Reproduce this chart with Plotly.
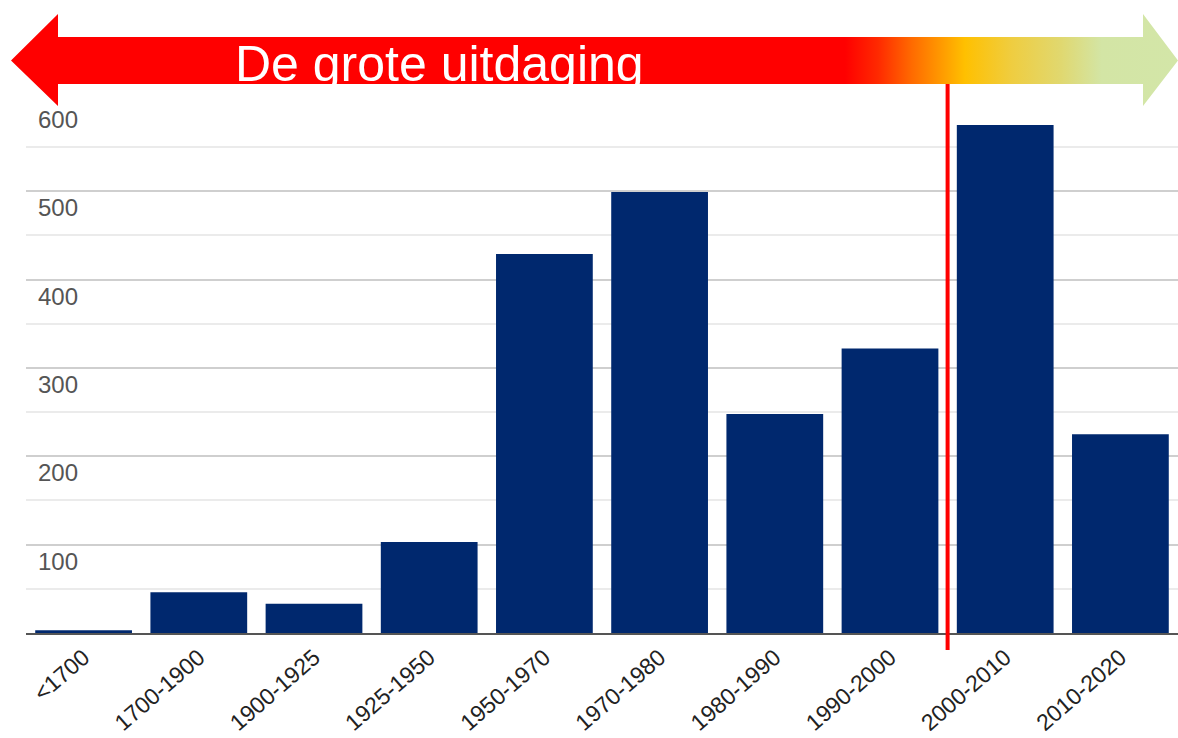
import plotly.graph_objects as go

# ---- data ----
categories = ["<1700", "1700-1900", "1900-1925", "1925-1950", "1950-1970",
              "1970-1980", "1980-1990", "1990-2000", "2000-2010", "2010-2020"]
values = [3, 46, 33, 103, 429, 499, 248, 322, 575, 225]
y_tickvals = [100, 200, 300, 400, 500, 600]
y_ticktext = ["100", "200", "300", "400", "500", "600"]
banner_text = "De grote uitdaging"
divider_position = 7.5  # between 1990-2000 and 2000-2010

# ---- layout constants (pixels) ----
W, H = 1178, 738
PLOT_LEFT, PLOT_RIGHT = 26, 1178
PLOT_TOP, PLOT_BOTTOM = 102, 633
BAR_COLOR = "#00286E"

# arrow geometry (overlay pixel space)
SHAFT_TOP, SHAFT_BOT = 37, 84
HEAD_TOP, HEAD_BOT = 14, 106
LEFT_TIP, LEFT_BACK = 11, 58
RIGHT_TIP, RIGHT_BACK = 1178, 1143
MID_Y = (SHAFT_TOP + SHAFT_BOT) / 2

arrow_x = [LEFT_TIP, LEFT_BACK, LEFT_BACK, RIGHT_BACK, RIGHT_BACK, RIGHT_TIP,
           RIGHT_BACK, RIGHT_BACK, LEFT_BACK, LEFT_BACK, LEFT_TIP]
arrow_y = [MID_Y, HEAD_TOP, SHAFT_TOP, SHAFT_TOP, HEAD_TOP, MID_Y,
           HEAD_BOT, SHAFT_BOT, SHAFT_BOT, HEAD_BOT, MID_Y]

gradient = [
    [0.0, "#ff0000"],
    [0.10, "#ff2a00"],
    [0.20, "#ff6a00"],
    [0.36, "#ffc000"],
    [0.50, "#efcd40"],
    [0.65, "#e0d870"],
    [0.77, "#d3e5a5"],
    [1.0, "#d3e6a8"],
]

fig = go.Figure()

fig.add_trace(go.Bar(
    x=categories, y=values, marker=dict(color=BAR_COLOR, line=dict(width=0)),
    xaxis="x", yaxis="y", hoverinfo="x+y", showlegend=False,
))

fig.add_trace(go.Scatter(
    x=arrow_x, y=arrow_y, mode="lines", fill="toself",
    line=dict(width=0, color="rgba(0,0,0,0)"),
    fillgradient=dict(type="horizontal", colorscale=gradient, start=845, stop=1178),
    xaxis="x2", yaxis="y2", hoverinfo="skip", showlegend=False,
))

fig.update_layout(
    width=W, height=H,
    margin=dict(l=0, r=0, t=0, b=0),
    paper_bgcolor="white", plot_bgcolor="rgba(0,0,0,0)",
    bargap=0.16,
    font=dict(family="Liberation Sans, Arial, sans-serif"),
    xaxis=dict(
        domain=[PLOT_LEFT / W, PLOT_RIGHT / W],
        type="category", range=[-0.5, 9.5],
        showgrid=False, showline=True, linecolor="#555555", linewidth=2,
        ticks="", tickangle=-41,
        tickfont=dict(size=23, color="#222222"),
        automargin=False, fixedrange=True, anchor="y",
    ),
    yaxis=dict(
        domain=[(H - PLOT_BOTTOM) / H, (H - PLOT_TOP) / H],
        range=[0, 601],
        tickmode="array", tickvals=y_tickvals, ticktext=y_ticktext,
        ticklabelposition="inside bottom", ticklabelstandoff=9,
        tickfont=dict(size=24, color="#555555"),
        showgrid=True, gridcolor="#cfcfcf", gridwidth=2,
        zeroline=False, showline=False, ticks="",
        minor=dict(tick0=0, dtick=50, showgrid=True, gridcolor="#ebebeb", gridwidth=2),
        automargin=False, fixedrange=True, anchor="x",
    ),
    xaxis2=dict(domain=[0, 1], range=[0, W], visible=False, anchor="y2", fixedrange=True),
    yaxis2=dict(domain=[0, 1], range=[H, 0], visible=False, anchor="x2", fixedrange=True),
    shapes=[dict(
        type="line", xref="x", yref="y2",
        x0=divider_position, x1=divider_position, y0=SHAFT_BOT, y1=650,
        line=dict(color="#ff0000", width=4), layer="above",
    )],
    annotations=[dict(
        text=banner_text, xref="x2", yref="y2", x=439, y=64,
        xanchor="center", yanchor="middle", showarrow=False,
        font=dict(size=50, color="white", family="Liberation Sans, Arial, sans-serif"),
    )],
)

fig.write_html(
    "out.html",
    config={"displayModeBar": False},
    post_script="document.body.style.margin='0';document.body.style.overflow='hidden';",
)
